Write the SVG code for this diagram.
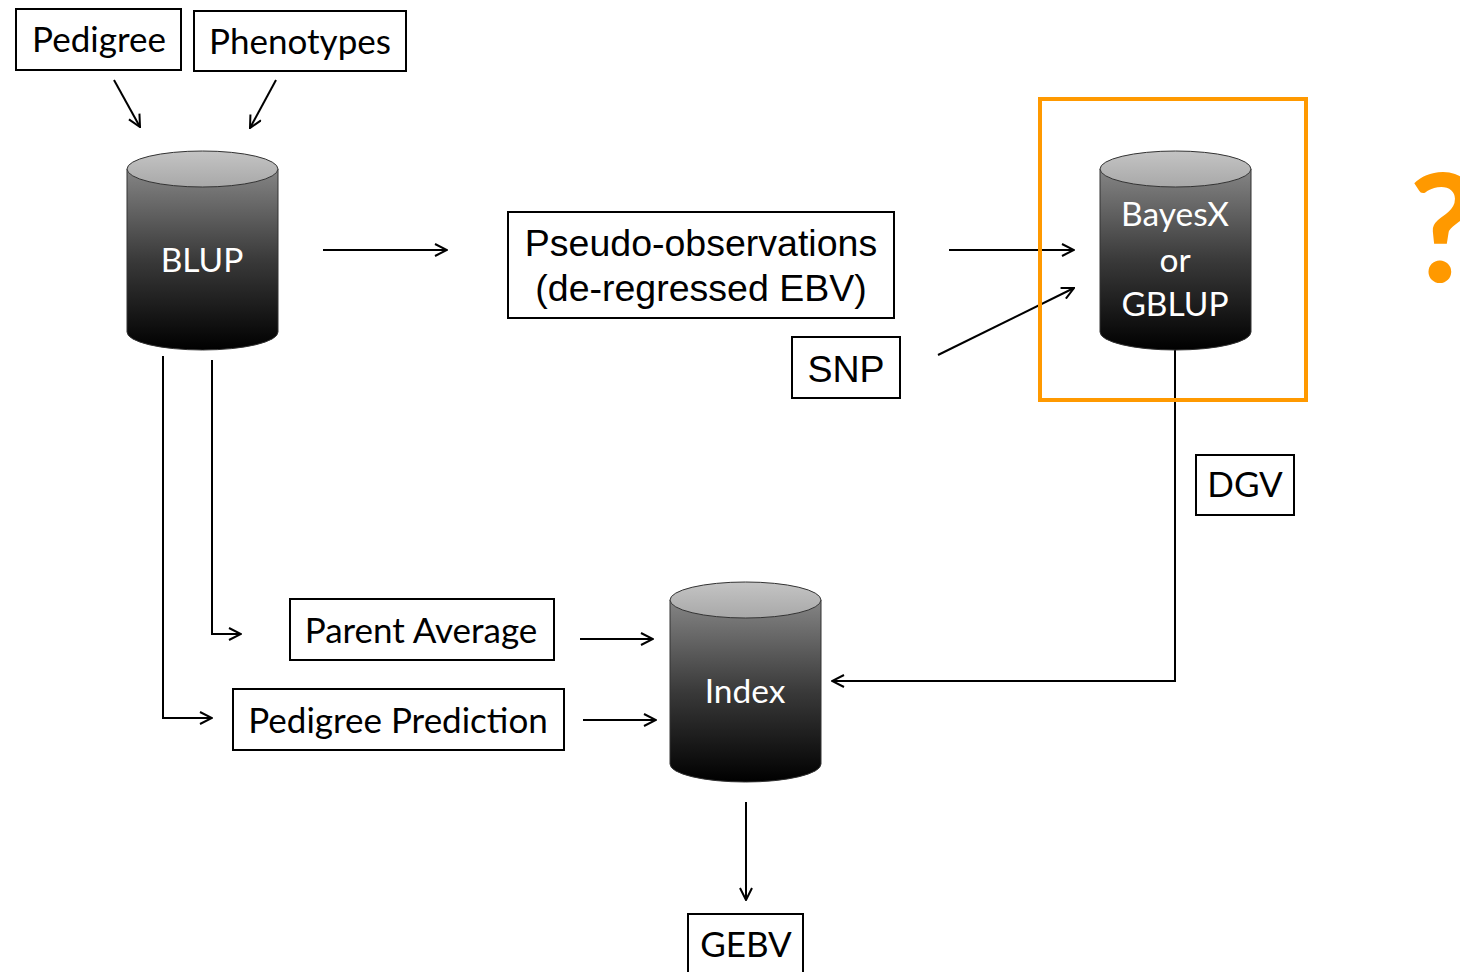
<svg xmlns="http://www.w3.org/2000/svg" width="1460" height="972" viewBox="0 0 1460 972">
<defs>
<style>
.box{fill:#fff;stroke:#000;stroke-width:2}
.lbl{font-family:Lato,"Open Sans","Liberation Sans",sans-serif;font-size:35px;fill:#000;text-anchor:middle}
.arl{font-family:"Liberation Sans",Arial,sans-serif;font-size:37.5px;fill:#000;text-anchor:middle}
.wl{font-family:Lato,"Open Sans","Liberation Sans",sans-serif;font-size:33.5px;fill:#fff;text-anchor:middle}
.con{fill:none;stroke:#000;stroke-width:2}
.cylbody{fill:url(#body);stroke:#333;stroke-width:1}
.cyltop{fill:url(#top);stroke:#333;stroke-width:1}
</style>
<linearGradient id="body" x1="0" y1="0" x2="0" y2="1">
<stop offset="0" stop-color="#858585"/>
<stop offset="0.5" stop-color="#3a3a3a"/>
<stop offset="1" stop-color="#000"/>
</linearGradient>
<linearGradient id="top" x1="0" y1="0" x2="0" y2="1">
<stop offset="0" stop-color="#c4c4c4"/>
<stop offset="1" stop-color="#a8a8a8"/>
</linearGradient>
<marker id="arr" viewBox="0 0 14 14" refX="13" refY="7" markerWidth="14" markerHeight="14" markerUnits="userSpaceOnUse" orient="auto">
<path d="M1,1 L13,7 L1,13" fill="none" stroke="#000" stroke-width="2"/>
</marker>
</defs>

<g id="connectors">
<line class="con" x1="114" y1="80" x2="140" y2="127" marker-end="url(#arr)"/>
<line class="con" x1="276" y1="80" x2="250" y2="128" marker-end="url(#arr)"/>
<line class="con" x1="323" y1="250" x2="447" y2="250" marker-end="url(#arr)"/>
<line class="con" x1="949" y1="250" x2="1074" y2="250" marker-end="url(#arr)"/>
<line class="con" x1="938" y1="355" x2="1074" y2="288" marker-end="url(#arr)"/>
<polyline class="con" points="1175,350 1175,681 832,681" marker-end="url(#arr)"/>
<polyline class="con" points="163,356 163,718 212,718" marker-end="url(#arr)"/>
<polyline class="con" points="212,360 212,634 241,634" marker-end="url(#arr)"/>
<line class="con" x1="580" y1="639" x2="653" y2="639" marker-end="url(#arr)"/>
<line class="con" x1="583" y1="720" x2="656" y2="720" marker-end="url(#arr)"/>
<line class="con" x1="746" y1="802" x2="746" y2="900" marker-end="url(#arr)"/>
</g>

<g id="pedigree">
<rect class="box" x="16" y="9" width="165" height="61"/>
<text class="lbl" x="99" y="52">Pedigree</text>
</g>
<g id="phenotypes">
<rect class="box" x="194" y="11" width="212" height="60"/>
<text class="lbl" x="300" y="54">Phenotypes</text>
</g>

<g id="blup">
<path class="cylbody" d="M127,169 L127,332 A75.5,18 0 0 0 278,332 L278,169 Z"/>
<ellipse class="cyltop" cx="202.5" cy="169" rx="75.5" ry="18"/>
<text class="wl" x="202" y="272">BLUP</text>
</g>

<g id="pseudo">
<rect class="box" x="508" y="212" width="386" height="106"/>
<text class="arl" x="701" y="256">Pseudo-observations</text>
<text class="arl" x="701" y="301">(de-regressed EBV)</text>
</g>

<g id="snp">
<rect class="box" x="792" y="337" width="108" height="61"/>
<text class="arl" x="846" y="382">SNP</text>
</g>

<g id="bayesx">
<rect x="1040" y="99" width="266" height="301" fill="none" stroke="#ff9900" stroke-width="4"/>
<path class="cylbody" d="M1100,169 L1100,332 A75.5,18 0 0 0 1251,332 L1251,169 Z"/>
<ellipse class="cyltop" cx="1175.5" cy="169" rx="75.5" ry="18"/>
<text class="wl" x="1175" y="226">BayesX</text>
<text class="wl" x="1175" y="272">or</text>
<text class="wl" x="1175" y="316">GBLUP</text>
</g>

<g id="question">
<text x="1409" y="282" font-family="Lato,'Open Sans',sans-serif" font-weight="bold" font-size="150" fill="#ff9900">?</text>
</g>

<g id="dgv">
<rect class="box" x="1196" y="455" width="98" height="60"/>
<text class="lbl" x="1245" y="497">DGV</text>
</g>

<g id="parent-average">
<rect class="box" x="290" y="599" width="264" height="61"/>
<text class="lbl" x="421" y="643">Parent Average</text>
</g>

<g id="pedigree-prediction">
<rect class="box" x="233" y="689" width="331" height="61"/>
<text class="lbl" x="398" y="733">Pedigree Prediction</text>
</g>

<g id="index">
<path class="cylbody" d="M670,600 L670,764 A75.5,18 0 0 0 821,764 L821,600 Z"/>
<ellipse class="cyltop" cx="745.5" cy="600" rx="75.5" ry="18"/>
<text class="wl" x="745" y="703">Index</text>
</g>

<g id="gebv">
<rect class="box" x="688" y="914" width="115" height="70"/>
<text class="lbl" x="746" y="957">GEBV</text>
</g>
</svg>
